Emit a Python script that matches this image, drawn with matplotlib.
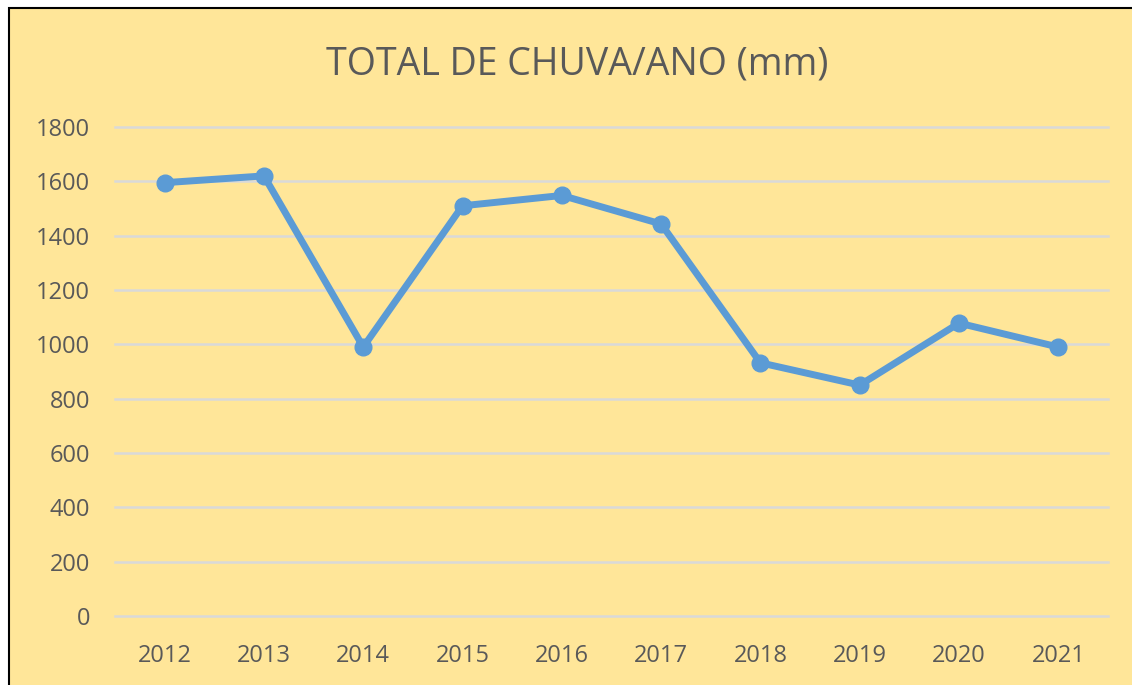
import matplotlib.pyplot as plt
from matplotlib.patches import Rectangle

anos = ['2012', '2013', '2014', '2015', '2016', '2017', '2018', '2019', '2020', '2021']
chuva = [1595, 1620, 990, 1510, 1548, 1443, 932, 850, 1078, 990]
y_ticks = [0, 200, 400, 600, 800, 1000, 1200, 1400, 1600, 1800]

amarelo = '#FFE699'
cinza = '#595959'
azul = '#5B9BD5'

plt.rcParams['font.family'] = ['Open Sans', 'DejaVu Sans']

fig = plt.figure(figsize=(11.32, 6.85), dpi=100, facecolor='white')
# chart area background with border (cut at right/bottom like the screenshot)
fig.patches.append(Rectangle((9 / 1132, -0.01), 1.02, 1 - 8 / 685 + 0.01,
                             transform=fig.transFigure, facecolor=amarelo,
                             edgecolor='black', linewidth=1.5, zorder=-1))

ax = fig.add_axes([115 / 1132, 1 - 616 / 685, (1108 - 115) / 1132, (616 - 127) / 685])
ax.set_facecolor('none')
x = range(len(anos))
ax.plot(x, chuva, color=azul, linewidth=5, marker='o', markersize=12,
        solid_joinstyle='round', zorder=3)

ax.set_xlim(-0.5, len(anos) - 0.5)
ax.set_ylim(0, 1800)
ax.set_yticks(y_ticks)
ax.set_xticks(list(x))
ax.set_xticklabels(anos)
ax.grid(axis='y', color='#D9D9D9', linewidth=1.8)
for gl in ax.get_ygridlines():
    gl.set_clip_on(False)
ax.set_axisbelow(True)
for s in ax.spines.values():
    s.set_visible(False)
ax.tick_params(length=0, labelsize=17, labelcolor=cinza)
ax.tick_params(axis='y', pad=18)
ax.tick_params(axis='x', pad=20)

fig.text(577 / 1132, 1 - 64 / 685, 'TOTAL DE CHUVA/ANO (mm)', ha='center', va='center',
         fontsize=27, color=cinza)

fig.savefig('out.png', dpi=100, facecolor='white')
